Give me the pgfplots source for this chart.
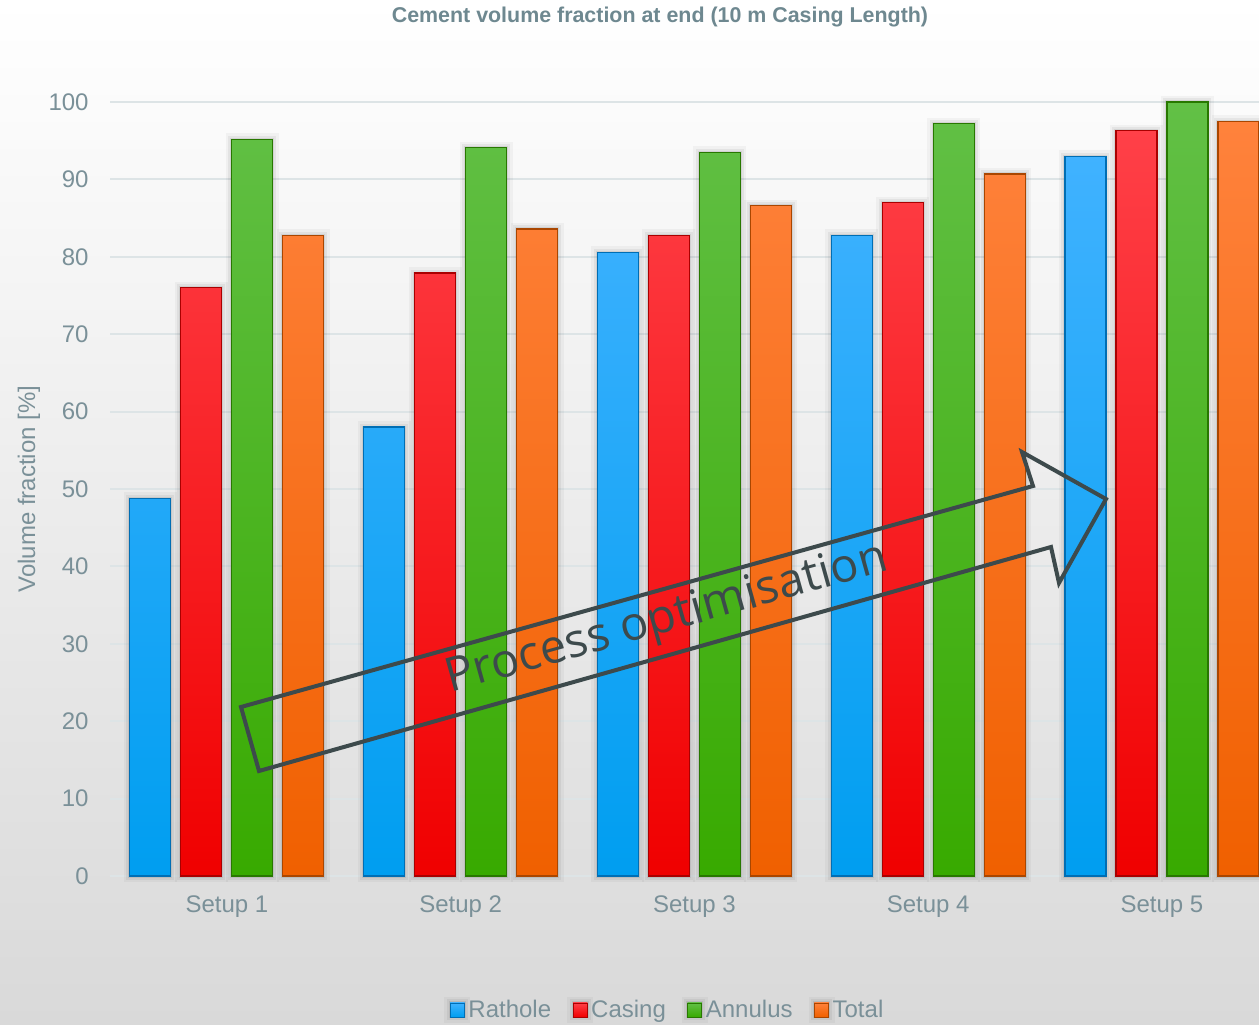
\documentclass[border=0pt]{standalone}
\usepackage{pgfplots}
\usepackage{pgfplotstable}
\pgfplotsset{compat=1.18}
\usepackage{fontspec}
\setmainfont{Liberation Sans}
\newfontfamily\osans{Open Sans}
\definecolor{tickc}{RGB}{122,144,152}
\definecolor{titlec}{RGB}{110,136,144}
\definecolor{gridc}{RGB}{221,228,230}
\definecolor{arrc}{RGB}{61,74,76}
\definecolor{bgM}{RGB}{242,242,242}
\definecolor{bgB}{RGB}{217,217,217}
\definecolor{rhT}{RGB}{64,178,255}\definecolor{rhB}{RGB}{0,158,240}\definecolor{rhD}{RGB}{0,110,180}
\definecolor{caT}{RGB}{255,64,72}\definecolor{caB}{RGB}{240,0,0}\definecolor{caD}{RGB}{170,0,0}
\definecolor{anT}{RGB}{98,192,70}\definecolor{anB}{RGB}{56,170,0}\definecolor{anD}{RGB}{40,120,0}
\definecolor{toT}{RGB}{255,130,60}\definecolor{toB}{RGB}{240,96,0}\definecolor{toD}{RGB}{170,70,0}

\makeatletter
\def\nopreact{\let\tikz@preactions\pgfutil@empty}
\makeatother

\pgfplotstableread{
x rathole casing annulus total
0 48.8 76.0 95.2 82.8
1 58.0 77.9 94.1 83.6
2 80.6 82.8 93.5 86.6
3 82.8 87.0 97.2 90.7
4 93.0 96.3 100.0 97.5
}\data

\pgfplotsset{
  shadowbar/.style={preaction={draw=black, draw opacity=0.035, line width=6pt},
                    preaction={draw=black, draw opacity=0.05, line width=3.5pt},
                    preaction={draw=black, draw opacity=0.07, line width=1.5pt}},
  ser/.style n args={3}{top color=#1, bottom color=#2, draw=#3, line width=0.6pt, shadowbar,
     legend image code/.code={\nopreact\shade[top color=#1,bottom color=#2,draw=#3,line width=0.4pt] (0pt,-3.5pt) rectangle (7pt,3.5pt);}},
}

\begin{document}
\begin{tikzpicture}[x=0.5pt,y=0.5pt]
\useasboundingbox (0,0) rectangle (1259,1024);
\shade[top color=white, middle color=bgM, bottom color=bgB] (0,0) rectangle (1259,1024);
\begin{axis}[
  at={(55pt,74pt)}, anchor=south west, scale only axis,
  width=574.5pt, height=387pt,
  xmin=-0.5, xmax=4.415, ymin=0, ymax=100, clip=false,
  ybar, bar width=20.5pt,
  ytick={0,10,...,100}, xtick={0,1,2,3,4},
  xticklabels={Setup 1,Setup 2,Setup 3,Setup 4,Setup 5},
  axis line style={draw=none}, major tick length=0pt,
  ymajorgrids, grid style={gridc, line width=1pt},
  tick label style={font=\fontsize{12}{14}\selectfont, text=tickc},
  yticklabel style={anchor=east, inner sep=0pt, xshift=-10.5pt},
  xticklabel style={anchor=north, inner sep=0pt, yshift=-9.5pt},
  /pgf/number format/assume math mode=true,
  legend style={at={(axis description cs:0.4825,-0.173)}, anchor=center, draw=none, fill=none,
     font=\fontsize{12}{14}\selectfont, text=tickc, legend columns=4,
     /tikz/every even column/.append style={column sep=7.5pt},
     /tikz/every odd column/.append style={column sep=-1.5pt},
     nodes={inner sep=0.5pt}},
]
\addplot[ser={rhT}{rhB}{rhD}, bar shift=-38.25pt] table[x=x,y=rathole]{\data};
\addplot[ser={caT}{caB}{caD}, bar shift=-12.75pt] table[x=x,y=casing]{\data};
\addplot[ser={anT}{anB}{anD}, bar shift=12.75pt] table[x=x,y=annulus]{\data};
\addplot[ser={toT}{toB}{toD}, bar shift=38.25pt] table[x=x,y=total]{\data};
\legend{Rathole,Casing,Annulus,Total}
\end{axis}
\draw[arrc, line width=2pt, line join=miter] (241,317)--(1033,538)--(1022,572)--(1106,525)--(1059,441)--(1051,477)--(259,253)--cycle;
\node[rotate=15.6, text=arrc, font=\osans\fontsize{23.5}{28}\selectfont] at (667,404) {Process optimisation};
\node[anchor=base, text=titlec, font=\bfseries\fontsize{10.7}{13}\selectfont] at (660,1001) {Cement volume fraction at end (10 m Casing Length)};
\node[rotate=90, text=tickc, font=\fontsize{12}{14}\selectfont] at (29,535) {Volume fraction [\%]};
\end{tikzpicture}
\end{document}
